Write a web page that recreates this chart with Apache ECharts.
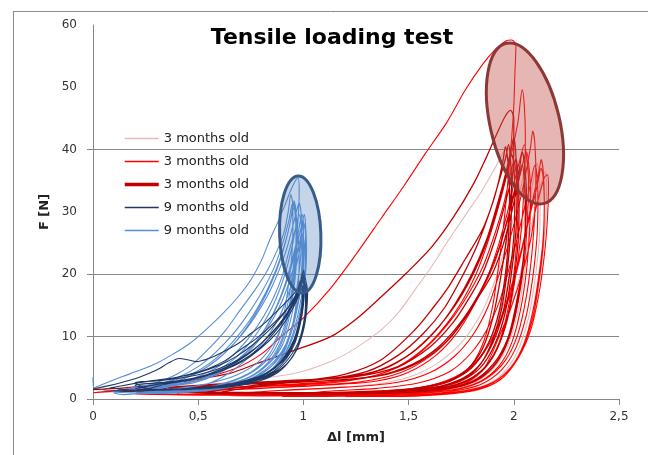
<!DOCTYPE html>
<html>
<head>
<meta charset="utf-8">
<script src="https://cdn.jsdelivr.net/npm/echarts@6/dist/echarts.min.js"></script>
<style>
  html, body { margin: 0; padding: 0; background: #fff; }
  #main { width: 648px; height: 455px; }
</style>
</head>
<body>
<div id="main"></div>
<script>
// 图表标题、坐标轴
var chartTitle = 'Tensile loading test';
var xName = 'Δl [mm]';
var yName = 'F [N]';
var yTickValues = [0, 10, 20, 40];

// 图例
var seriesKeys = ['pink3m', 'red3m', 'darkred3m', 'navy9m', 'blue9m'];
var legendLabels = ['3 months old', '3 months old', '3 months old', '9 months old', '9 months old'];

// 3 months old (浅粉)
var pinkData = [
	[0, 1.0], [0.2, 1.3], [0.4, 1.8], [0.6, 2.5], [0.78, 3.2], [0.97, 4.2], [1.13, 6.0], [1.25, 8.2], [1.37, 11.1], [1.45, 13.8], [1.53, 17.5], [1.61, 21.3], [1.69, 25.5], [1.77, 29.5], [1.85, 33.5], [1.91, 37], [1.95, 39.5], [1.97, 40.3],
	[1.985, 38], [1.99, 33], [1.985, 27], [1.97, 21], [1.94, 15], [1.9, 9.5], [1.84, 5.5], [1.76, 3.0], [1.62, 1.7], [1.4, 1.1], [1.1, 0.8], [0.8, 0.8], [0.5, 0.8],
	[0.7, 1.1], [1.0, 1.5], [1.3, 2.2], [1.5, 3.5], [1.64, 5.8], [1.75, 9.0], [1.83, 12.8], [1.88, 16.3], [1.92, 20], [1.97, 25.5], [2.01, 30.5], [2.04, 35], [2.06, 38.4],
	[2.07, 37], [2.075, 32], [2.07, 26], [2.05, 20], [2.02, 14], [1.97, 8.5], [1.9, 4.8], [1.8, 2.4], [1.65, 1.2], [1.4, 0.7], [1.1, 0.5],
	[1.4, 1.3], [1.6, 2.1], [1.74, 3.8], [1.84, 6.8], [1.91, 11], [1.95, 15], [1.98, 20], [2.02, 25], [2.06, 30], [2.09, 34.5], [2.11, 37.8],
	[2.12, 36], [2.125, 31], [2.12, 25], [2.1, 19], [2.07, 13], [2.02, 7.8], [1.95, 4.2], [1.85, 2.0], [1.7, 0.9], [1.45, 0.5],
	[1.55, 0.9], [1.7, 1.6], [1.81, 3.2], [1.89, 6.3], [1.95, 10.5], [1.99, 14.8], [2.03, 20], [2.07, 25.5], [2.1, 30.5], [2.13, 34.5], [2.15, 36.5],
	[2.155, 34], [2.15, 28], [2.13, 21], [2.1, 15], [2.05, 9], [1.98, 5], [1.88, 2.4], [1.72, 1.0], [1.5, 0.5]
];

// 3 months old (红)
var redData = [
	[0, 1.0], [0.1, 1.3], [0.3, 2.2], [0.5, 3.2], [0.67, 4.8], [0.8, 7.2], [0.9, 10.2], [1.0, 13.0], [1.13, 17.8], [1.25, 23.2], [1.37, 29.0], [1.48, 34.3], [1.58, 39.4], [1.68, 44.3], [1.77, 49.6], [1.85, 53.6], [1.91, 56.0], [1.96, 57.4], [1.99, 57.6], [2.01, 56.8],
	[2.005, 52], [2.0, 47], [1.99, 42], [1.975, 36], [1.955, 29], [1.93, 22], [1.9, 15], [1.86, 9.5], [1.8, 5.5], [1.72, 3.2], [1.6, 1.9], [1.4, 1.2], [1.1, 0.9], [0.8, 0.8], [0.5, 0.7], [0.2, 0.8],
	[0.5, 1.5], [0.8, 2.0], [1.1, 2.5], [1.3, 3.4], [1.45, 5.2], [1.58, 8.3], [1.68, 12], [1.76, 16], [1.82, 20], [1.87, 24.5], [1.92, 30], [1.96, 35], [1.99, 39.5], [2.02, 44.5], [2.04, 49.6],
	[2.05, 47], [2.055, 42], [2.05, 35], [2.035, 27], [2.01, 20], [1.97, 13], [1.92, 8], [1.85, 4.5], [1.75, 2.4], [1.6, 1.3], [1.35, 0.8], [1.0, 0.6], [0.6, 0.6], [0.3, 0.8],
	[0.5, 1.3], [0.8, 1.7], [1.1, 2.2], [1.35, 2.9], [1.5, 4.3], [1.63, 7.0], [1.73, 10.6], [1.81, 15], [1.88, 20], [1.93, 25], [1.97, 30], [2.0, 34.5], [2.03, 38.5], [2.05, 40.8],
	[2.06, 39], [2.07, 35], [2.065, 29], [2.05, 22], [2.02, 15.5], [1.98, 10], [1.92, 6], [1.84, 3.3], [1.72, 1.8], [1.55, 1.0], [1.3, 0.6], [0.9, 0.5], [0.6, 0.6],
	[0.9, 1.4], [1.2, 1.9], [1.45, 2.7], [1.6, 4.2], [1.72, 6.9], [1.81, 10.5], [1.88, 15], [1.93, 20], [1.98, 25.5], [2.02, 30.5], [2.05, 35], [2.08, 40.5], [2.09, 43],
	[2.1, 41], [2.105, 36], [2.1, 30], [2.085, 23], [2.06, 16.5], [2.02, 10.5], [1.96, 6.2], [1.87, 3.3], [1.75, 1.7], [1.55, 0.9], [1.25, 0.5], [0.9, 0.4],
	[1.1, 1.2], [1.35, 1.7], [1.55, 2.6], [1.7, 4.5], [1.8, 7.5], [1.87, 11], [1.93, 15.5], [1.97, 20], [2.01, 25], [2.05, 30.5], [2.08, 34.5], [2.1, 37.5],
	[2.11, 36], [2.115, 32], [2.11, 26], [2.09, 19.5], [2.06, 13.5], [2.01, 8.2], [1.94, 4.6], [1.84, 2.3], [1.7, 1.2], [1.5, 0.6], [1.2, 0.4],
	[1.3, 1.1], [1.5, 1.6], [1.65, 2.6], [1.77, 4.5], [1.86, 7.6], [1.92, 11.2], [1.97, 15.5], [2.01, 20], [2.05, 25.5], [2.08, 30], [2.11, 34], [2.13, 37],
	[2.14, 35.5], [2.145, 31], [2.14, 25], [2.12, 19], [2.09, 13], [2.04, 8], [1.97, 4.4], [1.87, 2.2], [1.72, 1.1], [1.5, 0.6], [1.2, 0.4],
	[1.3, 0.7], [1.53, 0.9], [1.68, 1.6], [1.77, 2.5], [1.86, 5.0], [1.93, 10], [1.99, 15], [2.04, 20.2], [2.08, 25.5], [2.1, 29.8], [2.12, 32.5], [2.145, 35.5], [2.16, 36],
	[2.165, 34], [2.16, 29], [2.145, 23], [2.12, 17], [2.08, 11], [2.02, 6.5], [1.94, 3.2], [1.83, 1.5], [1.65, 0.7], [1.4, 0.4],
	[1.0, 0.5], [0.6, 0.6], [0.3, 0.9], [0.5, 1.6], [0.8, 2.1], [1.1, 2.7], [1.32, 3.6], [1.48, 5.6], [1.6, 8.8], [1.7, 12.6], [1.78, 16.6], [1.85, 21], [1.9, 25.5], [1.95, 31], [1.98, 35.5], [2.0, 38],
	[2.01, 36.5], [2.02, 32], [2.015, 26], [2.0, 20], [1.97, 14], [1.93, 9], [1.87, 5.4], [1.78, 3], [1.65, 1.6], [1.45, 0.9], [1.1, 0.6], [0.7, 0.6], [0.4, 0.9],
	[0.7, 1.6], [1.0, 2.1], [1.28, 2.8], [1.46, 4.2], [1.6, 6.8], [1.71, 10.3], [1.8, 14.6], [1.86, 18.2], [1.91, 22], [1.96, 27.5], [2.0, 32.5], [2.03, 36], [2.06, 39.6],
	[2.07, 38], [2.08, 33], [2.075, 27], [2.06, 20.5], [2.03, 14], [1.99, 9], [1.93, 5.3], [1.84, 2.8], [1.7, 1.4], [1.5, 0.8], [1.2, 0.5],
	[1.4, 1.0], [1.6, 1.9], [1.74, 3.6], [1.84, 6.6], [1.91, 10.6], [1.96, 15], [2.0, 19.5], [2.04, 24.5], [2.07, 29], [2.1, 33.5], [2.12, 36.5], [2.13, 38.4],
	[2.14, 36.5], [2.145, 32], [2.14, 26], [2.12, 20], [2.09, 14], [2.05, 9], [1.99, 5.2], [1.9, 2.6], [1.77, 1.2], [1.55, 0.6]
];

// 3 months old (深红)
var darkRedData = [
	[0, 1.5], [0.15, 1.8], [0.3, 2.3], [0.5, 3.2], [0.65, 4.1], [0.78, 5.7], [0.94, 7.6], [1.13, 10.0], [1.25, 12.8], [1.37, 16.4], [1.49, 20.2], [1.61, 24.4], [1.71, 29.0], [1.81, 34.6], [1.87, 38.8], [1.92, 42.6], [1.96, 45.4], [1.985, 46.3], [2.0, 45.0],
	[2.0, 40], [1.99, 34], [1.97, 27], [1.94, 20], [1.9, 13], [1.85, 8], [1.78, 4.8], [1.68, 2.8], [1.5, 1.6], [1.2, 1.1], [0.9, 1.0], [0.6, 1.1], [0.3, 1.2], [0.1, 1.3],
	[0.4, 2.0], [0.7, 2.6], [1.0, 3.0], [1.2, 4.0], [1.37, 6.3], [1.53, 11.1], [1.62, 14.8], [1.69, 18], [1.77, 22.5], [1.85, 27.1], [1.9, 31.5], [1.93, 35.2], [1.95, 38.5], [1.96, 40.5],
	[1.975, 37], [1.98, 32], [1.975, 26], [1.96, 20], [1.93, 14], [1.88, 9], [1.8, 5], [1.7, 3], [1.55, 1.8], [1.3, 1.2], [1.0, 1.0], [0.6, 1.0], [0.2, 1.2],
	[0.5, 2.1], [0.8, 2.7], [1.1, 3.2], [1.3, 4.4], [1.45, 7.0], [1.57, 10.5], [1.67, 14.6], [1.76, 20], [1.83, 25], [1.89, 30.5], [1.93, 35], [1.96, 38.5], [1.975, 40.8],
	[1.985, 38], [1.99, 33], [1.985, 27], [1.97, 21], [1.945, 15], [1.9, 9.5], [1.84, 5.5], [1.75, 3.0], [1.6, 1.8], [1.35, 1.2], [1.0, 0.9], [0.6, 1.0], [0.3, 1.3],
	[0.6, 2.3], [0.9, 2.9], [1.2, 3.5], [1.38, 4.8], [1.52, 7.5], [1.63, 11], [1.72, 15.2], [1.8, 20], [1.87, 25.5], [1.92, 31], [1.96, 36], [1.99, 40.5], [2.0, 42],
	[2.01, 39], [2.015, 33], [2.01, 27], [1.99, 20.5], [1.96, 14], [1.91, 8.8], [1.84, 5], [1.74, 2.8], [1.6, 1.7], [1.35, 1.1], [1.0, 0.9], [0.6, 0.9], [0.4, 1.2],
	[0.7, 2.4], [1.0, 3.0], [1.25, 3.6], [1.45, 5.2], [1.6, 8.3], [1.71, 12.2], [1.79, 16.3], [1.85, 20], [1.91, 25.5], [1.96, 31.5], [1.99, 35.5], [2.01, 38.6],
	[2.02, 36], [2.025, 31], [2.02, 25], [2.0, 19], [1.97, 13], [1.92, 8], [1.85, 4.6], [1.75, 2.6], [1.6, 1.5], [1.35, 1.0], [1.0, 0.8], [0.6, 1.0],
	[0.9, 2.5], [1.2, 3.1], [1.4, 4.0], [1.55, 5.9], [1.68, 9.2], [1.77, 13], [1.84, 16.8], [1.9, 20.2], [1.95, 24.8], [1.99, 30], [2.02, 34.5], [2.04, 37.6],
	[2.05, 35], [2.055, 30], [2.05, 24], [2.03, 18], [2.0, 12.5], [1.95, 7.6], [1.88, 4.4], [1.78, 2.4], [1.62, 1.4], [1.35, 0.9], [1.0, 0.7],
	[0.6, 0.9], [0.3, 1.2], [0.5, 1.9], [0.8, 2.5], [1.1, 3.2], [1.33, 4.3], [1.48, 6.6], [1.6, 10], [1.7, 14], [1.78, 18.3], [1.84, 22.5], [1.89, 27], [1.93, 31.5], [1.965, 36], [1.99, 39.2],
	[2.0, 37.5], [2.005, 32], [2.0, 26], [1.98, 20], [1.95, 14], [1.9, 9], [1.83, 5.2], [1.73, 2.9], [1.58, 1.6], [1.3, 1.0], [0.9, 0.8], [0.5, 0.9],
	[0.8, 2.3], [1.1, 2.9], [1.35, 3.7], [1.52, 5.6], [1.65, 8.6], [1.75, 12.4], [1.83, 16.6], [1.88, 20], [1.93, 24.2], [1.97, 28.8], [2.0, 33], [2.025, 36.5], [2.04, 39.6],
	[2.05, 38], [2.06, 33], [2.055, 27], [2.04, 21], [2.01, 15], [1.97, 9.6], [1.9, 5.5], [1.8, 2.8], [1.64, 1.5], [1.4, 0.9]
];

// 9 months old (深蓝)
var navyData = [
	[0, 1.6], [0.07, 2.1], [0.14, 2.7], [0.22, 3.5], [0.3, 4.6], [0.36, 5.8], [0.41, 6.5], [0.45, 6.3], [0.49, 6.0], [0.55, 6.5], [0.62, 7.6], [0.69, 8.9], [0.75, 10.5], [0.82, 12.3], [0.88, 14.3], [0.93, 16], [0.97, 17.5], [0.99, 19], [1.0, 19.8],
	[1.005, 18], [1.0, 15], [0.985, 12], [0.96, 9], [0.92, 6.5], [0.86, 4.5], [0.78, 3.2], [0.65, 2.3], [0.5, 1.8], [0.35, 1.5], [0.2, 1.3], [0.05, 1.5],
	[0.15, 2.2], [0.25, 2.8], [0.35, 3.2], [0.45, 3.9], [0.55, 4.9], [0.63, 6.2], [0.7, 7.9], [0.78, 9.8], [0.86, 12.2], [0.92, 14.4], [0.97, 16.6], [0.99, 18.5], [1.0, 20.7],
	[1.005, 19], [1.0, 16], [0.985, 12.5], [0.96, 9.5], [0.92, 7], [0.86, 5], [0.78, 3.5], [0.66, 2.4], [0.5, 1.8], [0.35, 1.5], [0.2, 1.4], [0.1, 1.8],
	[0.2, 2.5], [0.3, 3.0], [0.4, 3.5], [0.5, 4.2], [0.6, 5.4], [0.68, 6.8], [0.76, 8.7], [0.83, 10.8], [0.89, 13], [0.94, 15.3], [0.97, 17.2], [0.985, 19],
	[0.995, 17], [0.99, 14], [0.975, 11], [0.95, 8.3], [0.9, 6], [0.83, 4.2], [0.73, 3], [0.6, 2.1], [0.45, 1.6], [0.3, 1.4], [0.2, 2.6],
	[0.3, 2.9], [0.4, 3.3], [0.5, 3.9], [0.6, 4.9], [0.69, 6.3], [0.77, 8.1], [0.84, 10.2], [0.9, 12.6], [0.95, 15], [0.98, 17.3], [1.0, 19.3],
	[1.01, 18], [1.01, 15], [1.0, 12], [0.975, 9], [0.93, 6.5], [0.87, 4.5], [0.78, 3.1], [0.65, 2.2], [0.5, 1.7], [0.3, 1.5], [0.2, 2.2],
	[0.35, 2.7], [0.5, 3.5], [0.62, 4.6], [0.72, 6.2], [0.8, 8.2], [0.87, 10.5], [0.92, 12.8], [0.96, 15.2], [0.99, 17.6], [1.01, 18.8],
	[1.02, 17], [1.015, 14], [1.0, 11], [0.97, 8], [0.92, 5.6], [0.85, 3.9], [0.75, 2.7], [0.6, 1.9], [0.4, 1.5], [0.2, 1.6],
	[0.3, 2.3], [0.42, 2.9], [0.54, 3.9], [0.64, 5.2], [0.73, 7.0], [0.81, 9.3], [0.88, 11.8], [0.93, 14.2], [0.965, 16.5], [0.985, 18.5], [0.995, 20.2],
	[1.0, 18.5], [0.995, 15.5], [0.98, 12.5], [0.955, 9.5], [0.91, 6.8], [0.85, 4.6], [0.76, 3.1], [0.62, 2.1], [0.45, 1.6], [0.25, 1.5],
	[0.35, 2.4], [0.48, 3.2], [0.6, 4.4], [0.7, 6.0], [0.79, 8.1], [0.86, 10.6], [0.92, 13.3], [0.96, 15.9], [0.99, 18.3], [1.005, 19.6],
	[1.015, 18], [1.015, 15], [1.005, 12], [0.98, 9], [0.94, 6.4], [0.88, 4.3], [0.79, 2.9], [0.66, 2.0], [0.5, 1.6]
];

// 9 months old (浅蓝)
var blueData = [
	[0, 3.5], [0.005, 1.8], [0.07, 2.7], [0.14, 3.6], [0.22, 4.6], [0.3, 5.7], [0.38, 7.2], [0.46, 8.9], [0.54, 11.2], [0.62, 13.8], [0.69, 16.4], [0.75, 19.1], [0.8, 22.2], [0.84, 25.5], [0.88, 28.5], [0.91, 30.9], [0.94, 33.5], [0.96, 34.9], [0.975, 35.5],
	[0.98, 33], [0.975, 29], [0.965, 25], [0.95, 20.5], [0.93, 16], [0.9, 12], [0.85, 8.5], [0.78, 5.8], [0.68, 3.8], [0.55, 2.5], [0.4, 1.6], [0.25, 1.0], [0.15, 0.7], [0.1, 1.0],
	[0.2, 1.7], [0.3, 2.6], [0.4, 4.0], [0.48, 5.8], [0.56, 8.4], [0.63, 11], [0.7, 14.3], [0.77, 17.5], [0.83, 20.7], [0.88, 24.2], [0.91, 27], [0.93, 30.5], [0.94, 32.8],
	[0.95, 31], [0.95, 27], [0.945, 23], [0.93, 18.5], [0.91, 14], [0.88, 10], [0.83, 6.8], [0.75, 4.3], [0.63, 2.6], [0.48, 1.5], [0.3, 0.9], [0.2, 1.3],
	[0.3, 2.2], [0.4, 3.4], [0.5, 5.2], [0.58, 7.4], [0.66, 10.2], [0.73, 13.3], [0.8, 17], [0.86, 21], [0.9, 24.8], [0.93, 28.5], [0.95, 31.5],
	[0.96, 30], [0.965, 26], [0.96, 22], [0.945, 17.5], [0.92, 13], [0.88, 9], [0.82, 6], [0.73, 3.8], [0.6, 2.2], [0.45, 1.3], [0.25, 1.5],
	[0.35, 2.3], [0.45, 3.5], [0.54, 5.1], [0.62, 7.2], [0.7, 10], [0.77, 13.2], [0.83, 16.6], [0.88, 20.3], [0.92, 24], [0.95, 27.8], [0.97, 30.5], [0.98, 31.5],
	[0.99, 29], [0.99, 25], [0.98, 20.5], [0.96, 16], [0.93, 11.5], [0.89, 8], [0.82, 5.2], [0.72, 3.2], [0.58, 1.9], [0.42, 1.2], [0.25, 1.7],
	[0.38, 2.4], [0.5, 3.6], [0.6, 5.3], [0.68, 7.5], [0.75, 10.2], [0.81, 13.2], [0.86, 16.4], [0.9, 19.8], [0.93, 23.5], [0.96, 27], [0.98, 29.6],
	[0.99, 28], [0.995, 24], [0.99, 20], [0.975, 15.5], [0.95, 11.5], [0.91, 8], [0.85, 5.3], [0.76, 3.3], [0.63, 2], [0.45, 1.3], [0.3, 1.8],
	[0.42, 2.4], [0.53, 3.3], [0.63, 4.8], [0.72, 6.9], [0.79, 9.5], [0.85, 12.5], [0.9, 15.8], [0.94, 19.6], [0.97, 23.3], [0.99, 26.5], [1.0, 28.3],
	[1.01, 26.5], [1.01, 22.5], [1.0, 18.5], [0.98, 14.5], [0.95, 10.5], [0.91, 7.2], [0.85, 4.7], [0.76, 2.9], [0.62, 1.8], [0.45, 1.3], [0.3, 1.2],
	[0.42, 1.8], [0.55, 2.5], [0.64, 4.0], [0.71, 5.8], [0.78, 8.0], [0.84, 10.5], [0.89, 13.5], [0.93, 17], [0.96, 20.5], [0.98, 23.5], [0.995, 26.5],
	[1.005, 24.5], [1.0, 21], [0.985, 17], [0.96, 13], [0.92, 9], [0.86, 6], [0.78, 3.8], [0.68, 2.4], [0.55, 1.5], [0.35, 1.0], [0.2, 1.5],
	[0.35, 2.1], [0.48, 3.0], [0.58, 4.4], [0.67, 6.4], [0.74, 8.8], [0.8, 11.6], [0.85, 14.6], [0.89, 17.8], [0.925, 21.5], [0.95, 25], [0.965, 27.6],
	[0.975, 26], [0.98, 22], [0.975, 18], [0.96, 14], [0.935, 10], [0.9, 7], [0.84, 4.5], [0.75, 2.8], [0.62, 1.7], [0.45, 1.1], [0.3, 0.9], [0.1, 1.2],
	[0.2, 1.9], [0.32, 2.5], [0.44, 3.6], [0.54, 5.4], [0.62, 7.6], [0.69, 10.2], [0.76, 13.4], [0.82, 17], [0.87, 20.8], [0.9, 23.6], [0.925, 26.5], [0.945, 29.5], [0.955, 30.6],
	[0.965, 29], [0.97, 25], [0.965, 21], [0.95, 16.5], [0.925, 12], [0.89, 8.5], [0.83, 5.5], [0.74, 3.4], [0.6, 2.0], [0.42, 1.3], [0.25, 1.3],
	[0.38, 2.1], [0.5, 3.0], [0.6, 4.4], [0.69, 6.4], [0.77, 9.0], [0.83, 12], [0.88, 15.5], [0.92, 19.2], [0.95, 22.8], [0.97, 25.6], [0.985, 28.5], [0.995, 29.6],
	[1.0, 27.5], [1.0, 23.5], [0.99, 19.5], [0.97, 15], [0.94, 11], [0.9, 7.6], [0.84, 5], [0.75, 3.1], [0.6, 1.8], [0.4, 1.2], [0.3, 2.0],
	[0.4, 2.9], [0.5, 4.3], [0.59, 6.3], [0.67, 8.9], [0.74, 12], [0.8, 15.3], [0.85, 18.8], [0.89, 22.3], [0.92, 25.8], [0.94, 28.8], [0.955, 31.8],
	[0.965, 30], [0.97, 26], [0.965, 22], [0.95, 17.5], [0.925, 13], [0.89, 9], [0.83, 5.8], [0.74, 3.5], [0.6, 2.0], [0.4, 1.2], [0.35, 1.8],
	[0.48, 2.6], [0.58, 3.8], [0.67, 5.7], [0.75, 8.2], [0.82, 11.3], [0.87, 14.5], [0.91, 17.8], [0.945, 21.5], [0.97, 24.8], [0.99, 27.6], [1.005, 29.6],
	[1.01, 28], [1.015, 24], [1.01, 20], [0.995, 16], [0.97, 12], [0.93, 8.3], [0.87, 5.4], [0.78, 3.3], [0.64, 1.9], [0.45, 1.2], [0.25, 1.0]
];

// 标注椭圆: [中心x, 中心y, 半轴x, 半轴y, 旋转角度]
var blueEllipse = [0.985, 26.4, 0.098, 9.4, 2];
var redEllipse = [2.053, 44.2, 0.165, 13.2, 13];

var lineColors = ['#e6b9b8', '#ff0000', '#c00000', '#1f3864', '#558ed5'];
var lineData = [pinkData, redData, darkRedData, navyData, blueData];
// 深蓝画在浅蓝之上
var lineZ = [2, 3, 4, 6, 5];
var ellipseStyles = [
	{ fill: 'rgba(79,129,189,0.33)', stroke: '#385d8a' },
	{ fill: 'rgba(192,80,77,0.42)', stroke: '#8c3836' }
];

function $each(arr, fn) {
	for (var i = 0; i < arr.length; i++) fn(i, arr[i]);
}

var myChart = echarts.init(document.getElementById('main'));

var series = [];
$each(seriesKeys, function(i, key) {
	series.push({
		name: key,
		type: 'line',
		data: lineData[i],
		symbol: 'none',
		smooth: 0.3,
		color: lineColors[i],
		lineStyle: { width: i === 2 ? 1.3 : 1.1, color: lineColors[i] },
		z: lineZ[i]
	});
});

// 椭圆（custom series，按坐标轴比例绘制）
series.push({
	type: 'custom',
	silent: true,
	z: 10,
	data: [blueEllipse, redEllipse],
	renderItem: function(params, api) {
		var c = api.coord([api.value(0), api.value(1)]);
		var s = api.size([api.value(2), api.value(3)]);
		var st = ellipseStyles[params.dataIndex];
		return {
			type: 'ellipse',
			x: c[0],
			y: c[1],
			rotation: api.value(4) * Math.PI / 180,
			shape: { cx: 0, cy: 0, rx: s[0], ry: s[1] },
			style: { fill: st.fill, stroke: st.stroke, lineWidth: 3 }
		};
	}
});

// 图例只显示线段，不显示标记点
var legendData = [];
$each(seriesKeys, function(i, key) {
	legendData.push({ name: key, itemStyle: { opacity: 0 }, lineStyle: { width: i === 2 ? 3.5 : 1.5 } });
});

var option = {
	animation: false,
	backgroundColor: '#fff',
	textStyle: { fontFamily: 'DejaVu Sans' },
	title: {
		text: chartTitle,
		left: 327,
		top: 22,
		textAlign: 'center',
		textStyle: { fontFamily: 'DejaVu Sans', fontWeight: 'bold', fontSize: 22, color: '#000' }
	},
	legend: {
		orient: 'vertical',
		left: 118,
		top: 127,
		itemWidth: 34,
		itemHeight: 14,
		itemGap: 10,
		data: legendData,
		formatter: function(name) {
			return legendLabels[seriesKeys.indexOf(name)];
		},
		textStyle: { fontSize: 13, color: '#222' }
	},
	grid: { left: 93, right: 29, top: 25, bottom: 56, containLabel: false },
	xAxis: {
		type: 'value',
		min: 0,
		max: 2.5,
		interval: 0.5,
		name: xName,
		nameLocation: 'middle',
		nameGap: 32,
		nameTextStyle: { fontWeight: 'bold', fontSize: 13, color: '#222' },
		axisLine: { lineStyle: { color: '#868686' } },
		axisTick: { show: true, length: 6, lineStyle: { color: '#868686' } },
		axisLabel: {
			margin: 12,
			fontSize: 12,
			color: '#333',
			formatter: function(v) { return String(v).replace('.', ','); }
		},
		splitLine: { show: false }
	},
	yAxis: {
		type: 'value',
		min: 0,
		max: 60,
		interval: 10,
		name: yName,
		nameLocation: 'middle',
		nameGap: 40,
		nameTextStyle: { fontWeight: 'bold', fontSize: 13, color: '#222' },
		axisLine: { show: true, lineStyle: { color: '#868686' } },
		axisTick: { show: true, length: 6, customValues: yTickValues, lineStyle: { color: '#868686' } },
		axisLabel: { margin: 16, fontSize: 12, color: '#333' },
		splitLine: { show: true, lineStyle: { color: '#868686', width: 1 } }
	},
	graphic: [
		{ type: 'line', silent: true, shape: { x1: 13, y1: 11.5, x2: 648, y2: 11.5 }, style: { stroke: '#8c8c8c', lineWidth: 1 } },
		{ type: 'line', silent: true, shape: { x1: 13.5, y1: 11, x2: 13.5, y2: 455 }, style: { stroke: '#8c8c8c', lineWidth: 1 } }
	],
	series: series
};

myChart.setOption(option);
</script>
</body>
</html>
